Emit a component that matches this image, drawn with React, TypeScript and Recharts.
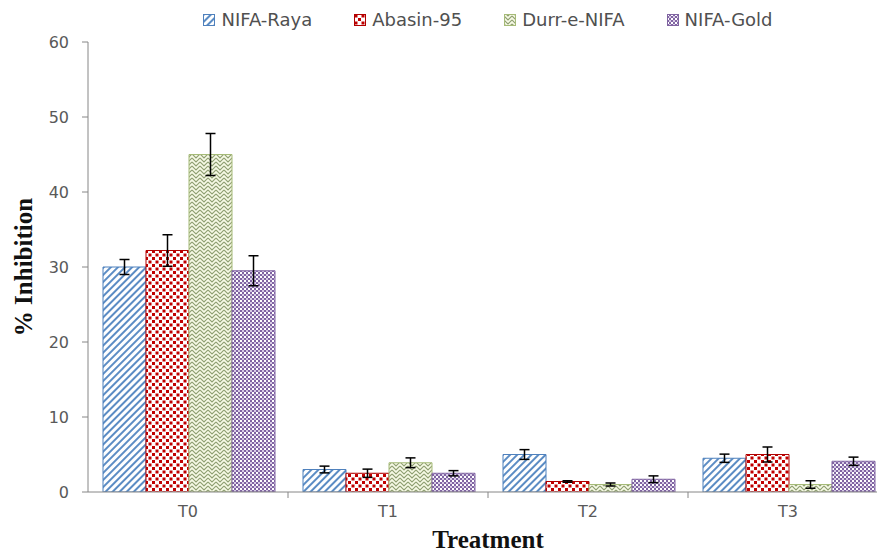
import React from 'react';
import { BarChart, Bar, XAxis, YAxis, ErrorBar } from 'recharts';

const categories = ['T0', 'T1', 'T2', 'T3'];
const seriesNames = ['NIFA-Raya', 'Abasin-95', 'Durr-e-NIFA', 'NIFA-Gold'];
const nifaRaya = [30.0, 3.0, 5.0, 4.5];
const nifaRayaErr = [1.0, 0.45, 0.65, 0.55];
const abasin95 = [32.2, 2.5, 1.4, 5.0];
const abasin95Err = [2.1, 0.55, 0.1, 1.0];
const durrENifa = [45.0, 3.9, 1.0, 1.0];
const durrENifaErr = [2.8, 0.65, 0.2, 0.5];
const nifaGold = [29.5, 2.5, 1.7, 4.1];
const nifaGoldErr = [2.0, 0.35, 0.45, 0.55];
const yTicks = [0, 10, 20, 30, 40, 50, 60];

const data = categories.map((c, i) => ({
  cat: c,
  raya: nifaRaya[i],
  rayaErr: nifaRayaErr[i],
  abasin: abasin95[i],
  abasinErr: abasin95Err[i],
  durr: durrENifa[i],
  durrErr: durrENifaErr[i],
  gold: nifaGold[i],
  goldErr: nifaGoldErr[i],
}));

const series = [
  { key: 'raya', err: 'rayaErr', name: seriesNames[0], pat: 'patRaya', stroke: '#4f81bd' },
  { key: 'abasin', err: 'abasinErr', name: seriesNames[1], pat: 'patAbasin', stroke: '#b00000' },
  { key: 'durr', err: 'durrErr', name: seriesNames[2], pat: 'patDurr', stroke: '#a6bb78' },
  { key: 'gold', err: 'goldErr', name: seriesNames[3], pat: 'patGold', stroke: '#8064a2' },
];

const AXIS = '#868686';
const TICK_FONT = { fill: '#595959', fontSize: 16, fontFamily: 'DejaVu Sans' };

const Patterns = () => (
  <svg width={0} height={0} style={{ position: 'absolute' }}>
    <defs>
      <pattern id="patRaya" patternUnits="userSpaceOnUse" width={5} height={5} patternTransform="rotate(45)">
        <rect width={5} height={5} fill="#ffffff" />
        <rect width={2} height={5} fill="#5b8cc4" />
      </pattern>
      <pattern id="patAbasin" patternUnits="userSpaceOnUse" width={7} height={7}>
        <rect width={7} height={7} fill="#ffffff" />
        <rect x={0.5} y={0.5} width={3} height={3} fill="#c00000" />
        <rect x={4} y={4} width={3} height={3} fill="#c00000" />
      </pattern>
      <pattern id="patDurr" patternUnits="userSpaceOnUse" width={8} height={8}>
        <rect width={8} height={8} fill="#f7fae6" />
        <path d="M0 2 L4 6 L8 2 M0 -2 L4 2 L8 -2 M0 6 L4 10 L8 6" stroke="#8f9f72" strokeWidth={1.1} fill="none" />
      </pattern>
      <pattern id="patGold" patternUnits="userSpaceOnUse" width={4} height={4}>
        <rect width={4} height={4} fill="#8064a2" />
        <rect x={0} y={0} width={2} height={2} fill="#ffffff" />
        <rect x={2} y={2} width={2} height={2} fill="#d8cce6" />
      </pattern>
    </defs>
  </svg>
);

const XTick = (props: any) => {
  const { x, y, payload, index } = props;
  const half = payload && payload.offset ? payload.offset : 0;
  return (
    <g>
      {index > 0 && half > 0 ? (
        <line x1={x - half} x2={x - half} y1={y - 8} y2={y - 2} stroke={AXIS} />
      ) : null}
      <text x={x} y={y + 17} textAnchor="middle" {...TICK_FONT}>
        {payload.value}
      </text>
    </g>
  );
};

const renderYLabel = (p: any) => {
  const vb = p.viewBox;
  const x = vb.x + 15;
  const y = vb.y + vb.height / 2;
  return (
    <text
      x={x}
      y={y}
      transform={`rotate(-90 ${x} ${y})`}
      textAnchor="middle"
      dominantBaseline="central"
      fontFamily="Liberation Serif"
      fontWeight="bold"
      fontSize={25}
      fill="#111"
    >
      % Inhibition
    </text>
  );
};

const renderXLabel = (p: any) => {
  const vb = p.viewBox;
  return (
    <text
      x={vb.x + vb.width / 2}
      y={vb.y + 56}
      textAnchor="middle"
      fontFamily="Liberation Serif"
      fontWeight="bold"
      fontSize={25}
      fill="#111"
    >
      Treatment
    </text>
  );
};

const LegendBox = () => (
  <div
    style={{
      position: 'absolute',
      left: 0,
      top: 1,
      width: 960,
      height: 21,
      display: 'flex',
      justifyContent: 'center',
      alignItems: 'center',
      gap: 42,
      fontFamily: 'DejaVu Sans',
      fontSize: 18,
      color: '#505050',
      zIndex: 2,
    }}
  >
    {series.map((s) => (
      <div key={s.key} style={{ display: 'flex', alignItems: 'center', gap: 6 }}>
        <svg width={12} height={12}>
          <rect x={0.5} y={0.5} width={11} height={11} fill={`url(#${s.pat})`} stroke={s.stroke} />
        </svg>
        <span>{s.name}</span>
      </div>
    ))}
  </div>
);

export default function App() {
  return (
    <div
      style={{
        position: 'fixed',
        left: 8,
        top: 8,
        width: 869,
        height: 545,
        overflow: 'hidden',
        background: '#fff',
      }}
    >
      <Patterns />
      <LegendBox />
      <BarChart
        width={890}
        height={545}
        data={data}
        margin={{ top: 34, right: 10, bottom: 31, left: 0 }}
        barCategoryGap="7.5%"
        barGap={0}
      >
        <XAxis
          dataKey="cat"
          height={30}
          axisLine={{ stroke: AXIS }}
          tickLine={false}
          tickSize={6}
          tickMargin={2}
          tick={<XTick />}
          interval={0}
          label={renderXLabel}
        />
        <YAxis
          width={80}
          domain={[0, 60]}
          ticks={yTicks}
          allowDataOverflow
          axisLine={{ stroke: AXIS }}
          tickLine={{ stroke: AXIS }}
          tickSize={6}
          tickMargin={13}
          tick={TICK_FONT}
          label={renderYLabel}
        />
        {series.map((s) => (
          <Bar
            key={s.key}
            dataKey={s.key}
            name={s.name}
            fill={`url(#${s.pat})`}
            stroke={s.stroke}
            strokeWidth={1}
            isAnimationActive={false}
          >
            <ErrorBar dataKey={s.err} width={5} stroke="#000" strokeWidth={1.5} direction="y" isAnimationActive={false} />
          </Bar>
        ))}
      </BarChart>
    </div>
  );
}
